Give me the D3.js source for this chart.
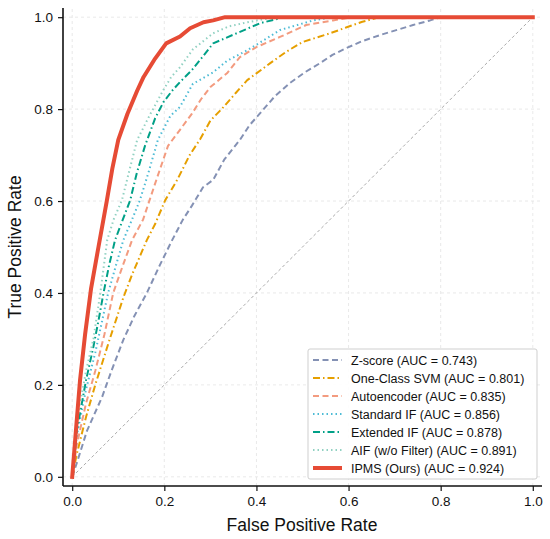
<!DOCTYPE html>
<html><head><meta charset="utf-8">
<script src="https://cdn.jsdelivr.net/npm/d3@7/dist/d3.min.js"></script>
<style>body{margin:0;background:#fff}svg{display:block;font-family:"Liberation Sans",Arial,sans-serif}</style>
</head><body><svg id="c" width="550" height="539"></svg>
<script>
const seriesNames = ["Z-score","One-Class SVM","Autoencoder","Standard IF","Extended IF","AIF (w/o Filter)","IPMS (Ours)"];
const aucValues = [0.743,0.801,0.835,0.856,0.878,0.891,0.924];
const zscore = [[0,0],[0.01,0.03],[0.032,0.10],[0.065,0.174],[0.085,0.23],[0.111,0.298],[0.135,0.35],[0.162,0.4],[0.19,0.46],[0.217,0.515],[0.24,0.559],[0.26,0.59],[0.284,0.63],[0.306,0.646],[0.33,0.69],[0.364,0.733],[0.385,0.765],[0.414,0.798],[0.44,0.828],[0.473,0.857],[0.505,0.88],[0.538,0.9],[0.565,0.918],[0.596,0.933],[0.63,0.948],[0.668,0.961],[0.74,0.983],[0.777,0.993],[0.8,1.0],[1,1]];
const ocsvm = [[0,0],[0.01,0.05],[0.03,0.13],[0.05,0.2],[0.08,0.295],[0.111,0.39],[0.13,0.44],[0.162,0.515],[0.18,0.55],[0.202,0.602],[0.228,0.646],[0.255,0.7],[0.278,0.735],[0.3,0.775],[0.328,0.804],[0.355,0.835],[0.38,0.863],[0.43,0.9],[0.465,0.925],[0.5,0.946],[0.56,0.965],[0.596,0.978],[0.63,0.99],[0.66,0.998],[0.67,1.0],[1,1]];
const autoenc = [[0,0],[0.01,0.07],[0.03,0.16],[0.05,0.23],[0.07,0.31],[0.089,0.4],[0.11,0.46],[0.13,0.515],[0.154,0.56],[0.168,0.602],[0.184,0.65],[0.208,0.72],[0.234,0.755],[0.26,0.79],[0.28,0.822],[0.3,0.848],[0.336,0.878],[0.364,0.913],[0.4,0.935],[0.451,0.957],[0.508,0.983],[0.566,0.993],[0.61,1.0],[1,1]];
const stdIF = [[0,0],[0.01,0.09],[0.03,0.19],[0.05,0.27],[0.064,0.335],[0.078,0.4],[0.095,0.46],[0.111,0.515],[0.13,0.56],[0.147,0.602],[0.165,0.66],[0.186,0.733],[0.213,0.785],[0.234,0.805],[0.262,0.855],[0.306,0.88],[0.336,0.905],[0.38,0.928],[0.408,0.945],[0.451,0.972],[0.523,0.993],[0.566,1.0],[1,1]];
const extIF = [[0,0],[0.01,0.1],[0.03,0.21],[0.046,0.283],[0.058,0.345],[0.068,0.4],[0.08,0.46],[0.093,0.515],[0.11,0.56],[0.126,0.602],[0.14,0.66],[0.158,0.72],[0.18,0.78],[0.198,0.815],[0.217,0.84],[0.234,0.859],[0.26,0.885],[0.28,0.91],[0.306,0.943],[0.35,0.962],[0.408,0.987],[0.46,1.0],[1,1]];
const aif = [[0,0],[0.01,0.12],[0.03,0.23],[0.046,0.3],[0.061,0.4],[0.076,0.515],[0.09,0.56],[0.108,0.602],[0.125,0.67],[0.141,0.733],[0.17,0.79],[0.197,0.84],[0.215,0.87],[0.234,0.891],[0.262,0.93],[0.306,0.965],[0.34,0.98],[0.38,0.989],[0.44,1.0],[1,1]];
const ipms = [[0,0],[0.008,0.1],[0.017,0.21],[0.028,0.31],[0.041,0.41],[0.057,0.5],[0.075,0.6],[0.087,0.67],[0.1,0.733],[0.12,0.79],[0.141,0.84],[0.155,0.87],[0.18,0.91],[0.204,0.943],[0.234,0.958],[0.256,0.976],[0.285,0.989],[0.306,0.993],[0.332,1.0],[1,1]];
const tickValues = [0,0.2,0.4,0.6,0.8,1.0];

const curves = [zscore,ocsvm,autoenc,stdIF,extIF,aif,ipms];
const colors = ["#8491B4","#E69F00","#F39B7F","#4DBBD5","#00A087","#91D1C2","#E64B35"];
const dashes = ["6,3.5","7,3,1.5,3","6,3.5","1.5,3","7,3,1.5,3","1.5,3",null];
const widths = [2,2,2,2,2,2,4];

const svg = d3.select("#c");
const x = d3.scaleLinear().domain([-0.02,1.02]).range([63,542]);
const y = d3.scaleLinear().domain([-0.02,1.02]).range([486,8]);

const g = svg.append("g");
g.selectAll(".gx").data(tickValues).enter().append("line")
  .attr("x1",d=>x(d)).attr("x2",d=>x(d)).attr("y1",y(-0.02)).attr("y2",y(1.02))
  .attr("stroke","#e3e3e3").attr("stroke-width",0.8).attr("stroke-dasharray","3,3");
g.selectAll(".gy").data(tickValues).enter().append("line")
  .attr("y1",d=>y(d)).attr("y2",d=>y(d)).attr("x1",x(-0.02)).attr("x2",x(1.02))
  .attr("stroke","#e3e3e3").attr("stroke-width",0.8).attr("stroke-dasharray","3,3");

svg.append("line").attr("x1",x(0)).attr("y1",y(0)).attr("x2",x(1)).attr("y2",y(1))
  .attr("stroke","#a0a0a0").attr("stroke-width",0.9).attr("stroke-dasharray","3,2.5");

const line = d3.line().x(d=>x(d[0])).y(d=>y(d[1]));
curves.forEach((c,i)=>{
  svg.append("path").datum(c).attr("d",line).attr("fill","none")
    .attr("stroke",colors[i]).attr("stroke-width",widths[i])
    .attr("stroke-dasharray",dashes[i]).attr("stroke-linecap", i===6?"square":"butt")
    .attr("stroke-linejoin","round");
});

const xa = svg.append("g").attr("transform","translate(0,486)")
  .call(d3.axisBottom(x).tickValues(tickValues).tickFormat(d3.format(".1f")).tickSize(5).tickPadding(5));
const ya = svg.append("g").attr("transform","translate(63,0)")
  .call(d3.axisLeft(y).tickValues(tickValues).tickFormat(d3.format(".1f")).tickSize(5).tickPadding(5));
[xa,ya].forEach(a=>{
  a.select(".domain").attr("stroke","#111").attr("stroke-width",1.6);
  a.selectAll(".tick line").attr("stroke","#111").attr("stroke-width",1.2);
  a.selectAll(".tick text").attr("font-size",13.5).attr("fill","#111").attr("font-family","Liberation Sans, Arial, sans-serif");
});
xa.select(".domain").attr("d","M63,0H542");
ya.select(".domain").attr("d","M0,8V486");

svg.append("text").attr("x",302).attr("y",531).attr("text-anchor","middle")
  .attr("font-size",17.5).attr("fill","#111").text("False Positive Rate");
svg.append("text").attr("transform","translate(21,247) rotate(-90)").attr("text-anchor","middle")
  .attr("font-size",17.5).attr("fill","#111").text("True Positive Rate");

const lg = svg.append("g");
lg.append("rect").attr("x",308).attr("y",349).attr("width",229).attr("height",130).attr("rx",2)
  .attr("fill","#fff").attr("fill-opacity",0.9).attr("stroke","#cfcfcf").attr("stroke-width",1);
seriesNames.forEach((n,i)=>{
  const yy = 360 + i*18;
  lg.append("line").attr("x1",313).attr("x2",342).attr("y1",yy).attr("y2",yy)
    .attr("stroke",colors[i]).attr("stroke-width",widths[i]).attr("stroke-dasharray",dashes[i]);
  lg.append("text").attr("x",351).attr("y",yy+4.5).attr("font-size",12.5).attr("fill","#111")
    .text(`${n} (AUC = ${aucValues[i].toFixed(3)})`);
});
</script></body></html>
